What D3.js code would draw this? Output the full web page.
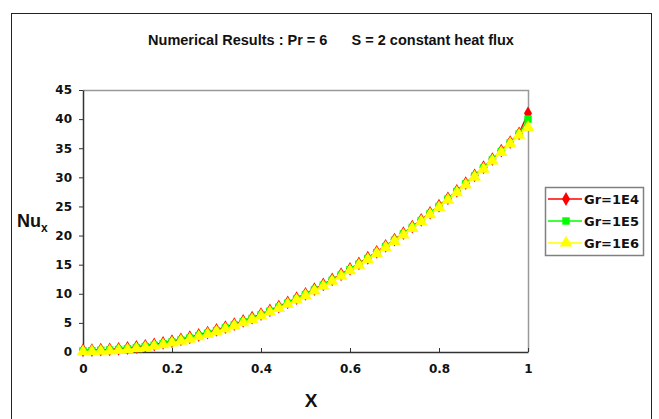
<!DOCTYPE html>
<html>
<head>
<meta charset="utf-8">
<script src="https://cdn.jsdelivr.net/npm/d3@7"></script>
<style>
  body { margin: 0; background: #fff; }
  text { font-family: "Liberation Sans", Arial, sans-serif; font-weight: bold; }
</style>
</head>
<body>
<div id="chart"></div>
<script>
(function(){
// x positions along the surface
const xValues = [0, 0.02, 0.04, 0.06, 0.08, 0.1, 0.12, 0.14, 0.16, 0.18,
  0.2, 0.22, 0.24, 0.26, 0.28, 0.3, 0.32, 0.34, 0.36, 0.38,
  0.4, 0.42, 0.44, 0.46, 0.48, 0.5, 0.52, 0.54, 0.56, 0.58,
  0.6, 0.62, 0.64, 0.66, 0.68, 0.7, 0.72, 0.74, 0.76, 0.78,
  0.8, 0.82, 0.84, 0.86, 0.88, 0.9, 0.92, 0.94, 0.96, 0.98, 1];

const nuGr1E4 = [0.3, 0.32, 0.4, 0.45, 0.55, 0.69, 0.86, 1.06, 1.29, 1.56,
  1.85, 2.18, 2.53, 2.92, 3.34, 3.79, 4.27, 4.79, 5.33, 5.9,
  6.51, 7.14, 7.81, 8.51, 9.24, 10.0, 10.79, 11.61, 12.47, 13.35,
  14.27, 15.21, 16.19, 17.2, 18.24, 19.31, 20.41, 21.55, 22.71, 23.91,
  25.13, 26.39, 27.68, 29.0, 30.35, 31.73, 33.14, 34.58, 36.06, 37.56, 41.0];

const nuGr1E5 = [0.2, 0.22, 0.3, 0.33, 0.42, 0.55, 0.72, 0.92, 1.15, 1.42,
  1.71, 2.04, 2.39, 2.78, 3.2, 3.65, 4.13, 4.65, 5.19, 5.76,
  6.37, 7.0, 7.67, 8.37, 9.1, 9.86, 10.65, 11.47, 12.33, 13.21,
  14.13, 15.07, 16.05, 17.06, 18.1, 19.17, 20.27, 21.41, 22.57, 23.77,
  24.99, 26.25, 27.54, 28.86, 30.21, 31.59, 33.0, 34.44, 35.92, 37.42, 40.0];

const nuGr1E6 = [0.05, 0.07, 0.15, 0.18, 0.27, 0.4, 0.56, 0.76, 0.99, 1.26,
  1.55, 1.88, 2.23, 2.62, 3.04, 3.49, 3.97, 4.49, 5.03, 5.6,
  6.21, 6.84, 7.51, 8.21, 8.94, 9.7, 10.49, 11.31, 12.17, 13.05,
  13.97, 14.91, 15.89, 16.9, 17.94, 19.01, 20.11, 21.25, 22.41, 23.61,
  24.83, 26.09, 27.38, 28.7, 30.05, 31.43, 32.84, 34.28, 35.76, 37.26, 38.6];

const seriesNames = ["Gr=1E4", "Gr=1E5", "Gr=1E6"];
const seriesColors = ["#ff0000", "#00ff00", "#ffff00"];
const xTicks = [0, 0.2, 0.4, 0.6, 0.8, 1];
const yTicks = [0, 5, 10, 15, 20, 25, 30, 35, 40, 45];

const W = 659, H = 419;
const plot = { left: 83, right: 528, top: 90, bottom: 352 };
const tickFont = "DejaVu Sans";

const svg = d3.select("#chart").append("svg")
  .attr("width", W).attr("height", H);

svg.append("rect").attr("width", W).attr("height", H).attr("fill", "#fff");

// outer chart frame
svg.append("rect")
  .attr("x", 11.5).attr("y", 13.5)
  .attr("width", 640).attr("height", 420)
  .attr("fill", "none").attr("stroke", "#222").attr("stroke-width", 1);

const x = d3.scaleLinear().domain([0, 1]).range([plot.left, plot.right]);
const y = d3.scaleLinear().domain([0, 45]).range([plot.bottom, plot.top]);

// plot border (top, right in grey)
svg.append("path")
  .attr("d", `M${plot.left},${plot.top + 0.5}H${plot.right + 0.5}V${plot.bottom}`)
  .attr("fill", "none").attr("stroke", "#999").attr("stroke-width", 1.5);

// axes
const yAxis = svg.append("g")
  .attr("transform", `translate(${plot.left},0)`)
  .call(d3.axisLeft(y).tickValues(yTicks).tickSize(4).tickSizeOuter(0).tickPadding(7));
const xAxis = svg.append("g")
  .attr("transform", `translate(0,${plot.bottom})`)
  .call(d3.axisBottom(x).tickValues(xTicks).tickSize(-4).tickSizeOuter(0).tickPadding(12)
    .tickFormat(d => d === 0 || d === 1 ? d3.format("d")(d) : d3.format(".1f")(d)));

[xAxis, yAxis].forEach(g => {
  g.attr("font-size", 12).attr("font-family", tickFont).attr("font-weight", "bold");
  g.select(".domain").attr("stroke", "#333").attr("stroke-width", 1.5);
  g.selectAll(".tick line").attr("stroke", "#333");
  g.selectAll(".tick text")
    .attr("fill", "#111")
    .style("font-size", "12px")
    .style("font-family", tickFont)
    .style("font-weight", "bold");
});

const series = [nuGr1E4, nuGr1E5, nuGr1E6];
const line = d3.line().x((d, i) => x(xValues[i])).y(d => y(d));

const symbols = [
  d3.symbol().type(d3.symbolDiamond).size(55),
  d3.symbol().type(d3.symbolSquare).size(55),
  d3.symbol().type(d3.symbolTriangle).size(68)
];

series.forEach((vals, k) => {
  const g = svg.append("g");
  g.append("path")
    .datum(vals)
    .attr("d", line)
    .attr("fill", "none")
    .attr("stroke", seriesColors[k])
    .attr("stroke-width", 1.5);
  g.selectAll("path.pt")
    .data(vals)
    .join("path")
    .attr("class", "pt")
    .attr("d", symbols[k])
    .attr("transform", (d, i) => `translate(${x(xValues[i])},${y(d)})`)
    .attr("fill", seriesColors[k]);
});

// title
svg.append("text")
  .attr("x", 331).attr("y", 45)
  .attr("text-anchor", "middle")
  .attr("xml:space", "preserve")
  .style("white-space", "pre")
  .style("font-size", "14.5px")
  .attr("fill", "#111")
  .text("Numerical Results : Pr = 6      S = 2 constant heat flux");

// axis titles
const yl = svg.append("text")
  .attr("x", 17).attr("y", 227)
  .attr("fill", "#111")
  .style("font-size", "18px");
yl.append("tspan").text("Nu");
yl.append("tspan").attr("dy", 5).style("font-size", "12px").text("x");

svg.append("text")
  .attr("x", 311).attr("y", 407)
  .attr("text-anchor", "middle")
  .attr("fill", "#111")
  .style("font-size", "19px")
  .text("X");

// legend
const lg = svg.append("g").attr("transform", "translate(545,187)");
lg.append("rect")
  .attr("x", 0.5).attr("y", 0.5).attr("width", 98).attr("height", 68)
  .attr("fill", "#fff").attr("stroke", "#808080").attr("stroke-width", 1.5);
seriesNames.forEach((name, k) => {
  const cy = 12 + k * 22;
  lg.append("line")
    .attr("x1", 3).attr("x2", 37).attr("y1", cy).attr("y2", cy)
    .attr("stroke", seriesColors[k]).attr("stroke-width", 1.5);
  lg.append("path")
    .attr("d", symbols[k])
    .attr("transform", `translate(21,${cy})`)
    .attr("fill", seriesColors[k]);
  lg.append("text")
    .attr("x", 39).attr("y", cy + 5)
    .attr("fill", "#111")
    .style("font-family", tickFont)
    .style("font-size", "13px")
    .text(name);
});
})();
</script>
</body>
</html>
